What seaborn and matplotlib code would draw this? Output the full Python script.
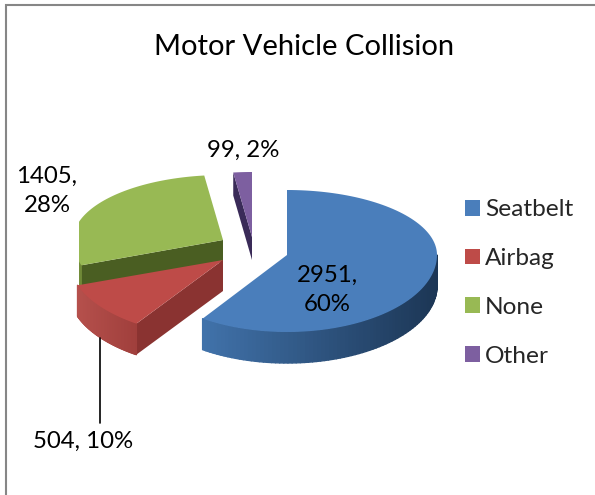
import numpy as np
import matplotlib
matplotlib.use("Agg")
import matplotlib.pyplot as plt
import seaborn as sns
from matplotlib.collections import PolyCollection
from matplotlib.colors import to_rgb
from matplotlib.patches import Patch, Rectangle

categories = ["Seatbelt", "Airbag", "None", "Other"]
values = [2951, 504, 1405, 99]
labels = ["2951,\n60%", "504, 10%", "1405,\n28%", "99, 2%"]
title = "Motor Vehicle Collision"

colors = ["#4a7ebb", "#be4b48", "#98b954", "#7d5fa0"]
cut_colors = ["#2c527f", "#8a3331", "#4a5e22", "#3a2b58"]
# wall colour at the left and right end of each slice
wall_left = ["#4173ab", "#b5504c", "#7f9a40", "#5f4a80"]
wall_right = ["#1c3655", "#a03f3c", "#6d8636", "#4f3d6e"]

# picture is laid out in pixels
cx, cy = 287, 255
rxs = [150, 154, 150, 150]
ry_back, ry_front = 65, 77
offsets = [(0, 0), (-64, 5), (-64, -15), (-35, -18)]
depths = [31, 31, 22, 23]
label_pos = [(327, 290), (83, 441), (47, 191), (243, 150)]

sns.set_theme(style="white")
plt.rcParams["font.family"] = ["Lato", "DejaVu Sans"]

fig, ax = plt.subplots(figsize=(5.95, 4.95), dpi=100)
ax.set_position([0, 0, 1, 1])
ax.set_xlim(0, 595)
ax.set_ylim(495, 0)
ax.axis("off")


def point(t, rx, ox, oy):
    ry = np.where(np.cos(t) >= 0, ry_back, ry_front)
    return cx + ox + rx * np.sin(t), cy + oy - ry * np.cos(t)


edges = np.radians(np.concatenate([[0], np.cumsum(values) / np.sum(values) * 360]))

# the None slice stops at the left edge of the Airbag slice
none_clip = Rectangle((79, 0), 516, 495, transform=ax.transData)

# back to front: Other, None, Airbag, Seatbelt
for i in [3, 2, 1, 0]:
    ox, oy = offsets[i]
    d = depths[i]
    rx = rxs[i]
    start, end = edges[i], edges[i + 1]
    ax0, ay0 = cx + ox, cy + oy
    parts = []

    # flat cut faces that look towards the viewer
    for a in (start, end):
        px, py = point(a, rx, ox, oy)
        normal_down = (px - ax0) if a == start else -(px - ax0)
        if normal_down < 0 and i != 0:
            parts += ax.fill([ax0, px, px, ax0], [ay0, py, py + d, ay0 + d],
                             color=cut_colors[i], lw=0)

    # outer wall, front half only
    lo, hi = max(start, np.pi / 2), min(end, 3 * np.pi / 2)
    if hi > lo:
        ts = np.linspace(lo, hi, 80)
        xs, ys = point(ts, rx, ox, oy)
        quads = [[(xs[k], ys[k]), (xs[k + 1], ys[k + 1]),
                  (xs[k + 1], ys[k + 1] + d), (xs[k], ys[k] + d)]
                 for k in range(len(ts) - 1)]
        mix = (xs[:-1] - xs.min()) / (xs.max() - xs.min())
        left, right = np.array(to_rgb(wall_left[i])), np.array(to_rgb(wall_right[i]))
        fc = [left + (right - left) * m for m in mix]
        wall = PolyCollection(quads, facecolors=fc, edgecolors=fc, linewidths=1.0)
        ax.add_collection(wall)
        parts.append(wall)

    # top face
    ts = np.linspace(start, end, 120)
    xs, ys = point(ts, rx, ox, oy)
    parts += ax.fill(np.r_[ax0, xs], np.r_[ay0, ys], color=colors[i], lw=0)

    if i == 2:
        for p in parts:
            p.set_clip_path(none_clip)

# chart border, only top and left are in the crop
ax.plot([595, 6, 6], [4.5, 4.5, 495], color="#868686", lw=1.5, solid_joinstyle="miter")

# leader line for the Airbag label
ax.plot([100, 100], [338, 423], color="black", lw=1.2)

for txt, (x, y) in zip(labels, label_pos):
    ax.text(x, y, txt, ha="center", va="center", fontsize=17.3, color="black", linespacing=1.5)

ax.text(304, 47, title, ha="center", va="center", fontsize=21, color="black")

handles = [Patch(facecolor=c, edgecolor="none") for c in colors]
ax.legend(handles, categories, loc="center left", bbox_to_anchor=(465 / 595, 1 - 283 / 495),
          frameon=False, fontsize=17.6, handlelength=0.62, handleheight=0.62,
          handletextpad=0.2, labelspacing=1.14, borderpad=0, borderaxespad=0)

fig.savefig("out.png", dpi=100)
